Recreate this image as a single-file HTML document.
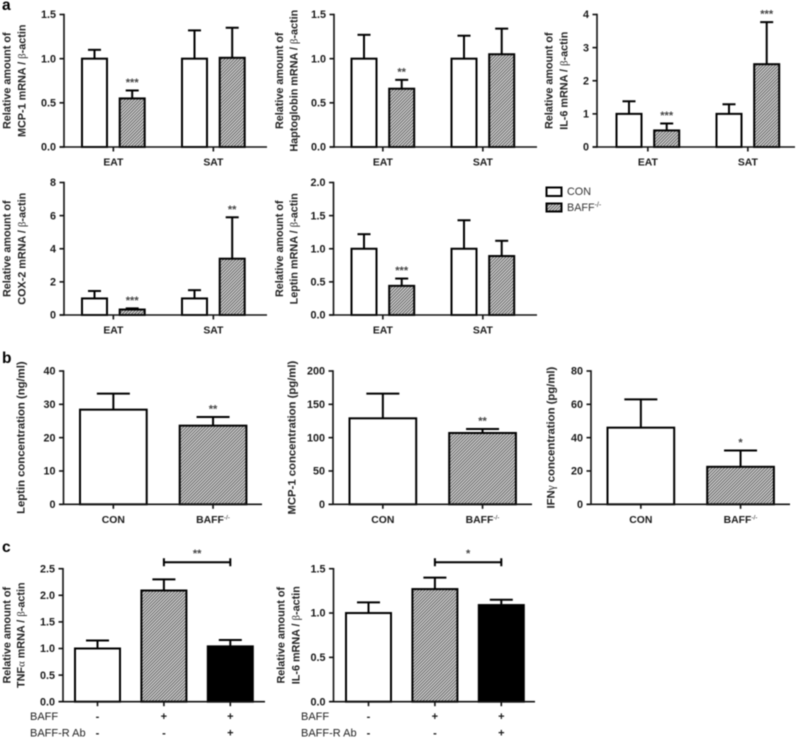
<!DOCTYPE html>
<html lang="en">
<head>
<meta charset="utf-8">
<title>BAFF knockout bar charts</title>
<style>
html,body{margin:0;padding:0;background:#fff;width:799px;height:738px;overflow:hidden}
svg{display:block;filter:blur(0.5px)}
text{font-family:"Liberation Sans",sans-serif;fill:#1a1a1a}
.tick{font-size:10.8px;font-weight:bold;text-anchor:end}
.cat{font-size:10.4px;font-weight:bold;text-anchor:middle}
.ylab{font-size:10.8px;font-weight:bold;text-anchor:middle;fill:#222}
.ylab.big{font-size:11.3px}
.gr{font-family:"Liberation Serif",serif;font-weight:normal}
.star{font-size:11px;font-weight:bold;text-anchor:middle;fill:#444}
.panel{font-size:15.5px;font-weight:bold;fill:#000}
.leg{font-size:10.8px;fill:#333}
.row{font-size:11px;fill:#222}
.sign{font-size:11px;font-weight:bold;text-anchor:middle}
</style>
</head>
<body>
<svg id="fig" xmlns="http://www.w3.org/2000/svg" width="799" height="738" viewBox="0 0 799 738">
<defs>
<pattern id="hatch" width="2.2" height="2.2" patternUnits="userSpaceOnUse" patternTransform="rotate(-45)">
<rect width="2.2" height="2.2" fill="#dcdcdc"/>
<rect width="2.2" height="1" fill="#5c5c5c"/>
</pattern>
</defs>
<rect width="799" height="738" fill="#fff"/>
<text class="panel" x="2" y="10">a</text>
<text class="panel" x="2" y="363">b</text>
<text class="panel" x="2" y="552">c</text>
<g>
<rect x="546.5" y="187.5" width="15" height="8.5" fill="#fff" stroke="#000" stroke-width="2"/>
<text class="leg" x="567" y="195">CON</text>
<rect x="546.5" y="203.5" width="15" height="8" fill="url(#hatch)" stroke="#000" stroke-width="2"/>
<text class="leg" x="567" y="211">BAFF<tspan font-size="7" dy="-4">-/-</tspan></text>
</g>
</svg>
<script>
// ---- shared tick labels ----
const ticks15 = ['0.0', '0.5', '1.0', '1.5'];
const ticks4 = ['0', '1', '2', '3', '4'];
const ticks8 = ['0', '2', '4', '6', '8'];
const ticks20 = ['0.0', '0.5', '1.0', '1.5', '2.0'];
const ticks40 = ['0', '10', '20', '30', '40'];
const ticks200 = ['0', '50', '100', '150', '200'];
const ticks80 = ['0', '20', '40', '60', '80'];
const ticks25 = ['0.0', '0.5', '1.0', '1.5', '2.0', '2.5'];

// ---- categories ----
const tissueCategories = ['EAT', 'SAT'];
const genotypeCategories = ['CON', 'BAFF'];

// ---- panel a ----
const mcp1Means = [1.0, 0.55, 1.0, 1.01];
const mcp1Upper = [1.10, 0.64, 1.32, 1.35];
const mcp1Stars = ['', '***', '', ''];
const haptoMeans = [1.0, 0.66, 1.0, 1.05];
const haptoUpper = [1.27, 0.76, 1.26, 1.34];
const haptoStars = ['', '**', '', ''];
const il6Means = [1.0, 0.5, 1.0, 2.5];
const il6Upper = [1.38, 0.71, 1.29, 3.77];
const il6Stars = ['', '***', '', '***'];
const cox2Means = [1.0, 0.33, 1.0, 3.4];
const cox2Upper = [1.45, 0.4, 1.5, 5.9];
const cox2Stars = ['', '***', '', '**'];
const leptinMeans = [1.0, 0.44, 1.0, 0.89];
const leptinUpper = [1.22, 0.55, 1.43, 1.12];
const leptinStars = ['', '***', '', ''];

// ---- panel b ----
const leptinConcMeans = [28.4, 23.6];
const leptinConcUpper = [33.2, 26.2];
const leptinConcStars = ['', '**'];
const mcp1ConcMeans = [129, 107];
const mcp1ConcUpper = [166, 113];
const mcp1ConcStars = ['', '**'];
const ifnConcMeans = [46, 22.5];
const ifnConcUpper = [63, 32.3];
const ifnConcStars = ['', '*'];

// ---- panel c ----
const tnfMeans = [1.0, 2.09, 1.04];
const tnfUpper = [1.15, 2.30, 1.16];
const il6TreatMeans = [1.0, 1.27, 1.09];
const il6TreatUpper = [1.12, 1.40, 1.15];
const baffSigns = ['-', '+', '+'];
const abSigns = ['-', '-', '+'];

const NS = 'http://www.w3.org/2000/svg';
const fig = document.getElementById('fig');
const INK = '#000';
const LW = 2;

function make(tag, attrs, parent) {
  const n = document.createElementNS(NS, tag);
  for (const k in attrs) n.setAttribute(k, attrs[k]);
  parent.appendChild(n);
  return n;
}

function addSpan(parent, txt, cls, extra) {
  const s = make('tspan', extra || {}, parent);
  if (cls) s.setAttribute('class', cls);
  s.textContent = txt;
}

// writes "plain text" where runs wrapped as [g]..[/g] use the serif greek face
function writeLabel(node, str) {
  str.split(/(\[g\].*?\[\/g\])/).forEach(function (part) {
    if (!part) return;
    if (part.indexOf('[g]') === 0) addSpan(node, part.slice(3, -4), 'gr');
    else addSpan(node, part, '');
  });
}

function yLabel(group, str, cx, cy, big) {
  const t = make('text', { class: big ? 'ylab big' : 'ylab', transform: 'translate(' + (cx + 3.7) + ' ' + cy + ') rotate(-90)' }, group);
  
  
  writeLabel(t, str);
}

function fillFor(style) {
  if (style === 'hatch') return 'url(#hatch)';
  if (style === 'black') return '#000';
  return '#fff';
}

function drawChart(p) {
  const g = make('g', {}, fig);
  
  

  const yMax = parseFloat(p.ticks[p.ticks.length - 1]);
  const y = function (v) { return p.base - (v / yMax) * (p.base - p.top); };
  const x = function (i) {
    const grp = Math.floor(i / p.perGroup);
    const sub = i % p.perGroup;
    return p.firstBar + grp * p.groupStep + sub * p.innerStep;
  };
  const groupCenter = function (grp) {
    return p.firstBar + grp * p.groupStep + ((p.perGroup - 1) * p.innerStep + p.barWidth) / 2;
  };

  // bars + error bars
  p.means.forEach(function (m, i) {
    const cx = x(i) + p.barWidth / 2;
    const stem = make('line', { x1: cx, x2: cx, y1: y(m), y2: y(p.upper[i]), stroke: INK, 'stroke-width': LW }, g);
    
    
    const cap = make('line', { x1: cx - p.cap / 2, x2: cx + p.cap / 2, y1: y(p.upper[i]), y2: y(p.upper[i]), stroke: INK, 'stroke-width': LW }, g);
    
    
    const bar = make('rect', {
      x: x(i), y: y(m), width: p.barWidth, height: p.base - y(m),
      fill: fillFor(p.styles[i % p.styles.length]), stroke: INK, 'stroke-width': LW
    }, g);
    
    
    if (p.stars && p.stars[i]) {
      const s = make('text', { class: 'star', x: cx, y: y(p.upper[i]) - 4.5 }, g);
      
      
      s.textContent = p.stars[i];
    }
  });

  // axes
  const yAxis = make('line', { x1: p.axis, x2: p.axis, y1: p.top - 0.7, y2: p.base + 0.7, stroke: '#111', 'stroke-width': 1.6 }, g);
  
  
  const xAxis = make('line', { x1: p.axis - 4.5, x2: p.xEnd, y1: p.base, y2: p.base, stroke: '#111', 'stroke-width': 1.6 }, g);
  
  

  p.ticks.forEach(function (lab) {
    const v = parseFloat(lab);
    const tk = make('line', { x1: p.axis - 4.5, x2: p.axis, y1: y(v), y2: y(v), stroke: '#111', 'stroke-width': 1.6 }, g);
    
    
    const t = make('text', { class: 'tick', x: p.axis - 8, y: y(v) + 3.7 }, g);
    
    
    t.textContent = lab;
  });

  const nGroups = Math.ceil(p.means.length / p.perGroup);
  for (let k = 0; k < nGroups; k++) {
    const c = groupCenter(k);
    const tk = make('line', { x1: c, x2: c, y1: p.base, y2: p.base + 4.5, stroke: '#111', 'stroke-width': 1.6 }, g);
    
    
    if (p.categories) {
      const t = make('text', { class: 'cat', x: c, y: p.base + p.catGap }, g);
      
      
      addSpan(t, p.categories[k], '');
      if (p.categories[k] === 'BAFF') addSpan(t, '-/-', '', { 'font-size': '6.5', dy: '-3.5', 'font-weight': 'normal' });
    }
  }

  // y titles
  p.titles.forEach(function (s, i) { yLabel(g, s, p.titleX[i], (p.top + p.base) / 2, p.bigTitle); });

  // treatment rows and comparison bracket
  if (p.rowSigns) {
    p.rowSigns.forEach(function (signs, r) {
      const rl = make('text', { class: 'row', x: p.rowX, y: p.rowY[r] }, g);
      
      
      rl.textContent = p.rowNames[r];
      signs.forEach(function (sg, k) {
        const t = make('text', { class: 'sign', x: groupCenter(k), y: p.rowY[r] }, g);
        
        
        t.textContent = sg;
      });
    });
    const a = groupCenter(1), b = groupCenter(2), by = p.bracketY;
    const br = make('path', {
      d: 'M' + a + ' ' + (by - 4) + 'V' + (by + 4) + 'M' + a + ' ' + by + 'H' + b + 'M' + b + ' ' + (by - 4) + 'V' + (by + 4),
      fill: 'none', stroke: INK, 'stroke-width': 2
    }, g);
    
    
    const st = make('text', { class: 'star', x: (a + b) / 2, y: by - 5.5 }, g);
    
    
    st.textContent = p.bracketStars;
  }
}

const pairStyle = ['white', 'hatch'];
const trioStyle = ['white', 'hatch', 'black'];
const REL = 'Relative amount of';

function panelA(name, axis, firstBar, xEnd, top, means, upper, stars, ticks, gene, titleX) {
  drawChart({
    name: name, axis: axis, firstBar: firstBar, xEnd: xEnd, top: top, base: top + 132.5,
    perGroup: 2, groupStep: 100, innerStep: 37.7, barWidth: 25, cap: 13, catGap: 18.5,
    means: means, upper: upper, stars: stars, ticks: ticks, styles: pairStyle,
    categories: tissueCategories,
    titles: [REL, gene + ' mRNA / [g]β[/g]-actin'], titleX: titleX
  });
}
function panelB(name, axis, firstBar, xEnd, means, upper, stars, ticks, title, titleX) {
  drawChart({
    name: name, axis: axis, firstBar: firstBar, xEnd: xEnd, top: 371, base: 504.3,
    perGroup: 1, groupStep: 99.7, innerStep: 0, barWidth: 66.7, cap: 33, catGap: 18.5,
    means: means, upper: upper, stars: stars, ticks: ticks, styles: pairStyle,
    categories: genotypeCategories, titles: [title], titleX: [titleX], bigTitle: true
  });
}
function panelC(name, axis, firstBar, xEnd, means, upper, ticks, gene, titleX, rowX, bracketStars) {
  drawChart({
    name: name, axis: axis, firstBar: firstBar, xEnd: xEnd, top: 568.7, base: 701.7,
    perGroup: 1, groupStep: 66.4, innerStep: 0, barWidth: 45, cap: 23,
    means: means, upper: upper, ticks: ticks, styles: trioStyle,
    titles: [REL, gene + ' mRNA / [g]β[/g]-actin'], titleX: titleX,
    rowSigns: [baffSigns, abSigns], rowNames: ['BAFF', 'BAFF-R Ab'], rowY: [720, 736.5], rowX: rowX,
    bracketY: 562.3, bracketStars: bracketStars
  });
}

panelA('chart-mcp1-mrna', 64, 82, 267, 14.5, mcp1Means, mcp1Upper, mcp1Stars, ticks15, 'MCP-1', [7, 22]);
panelA('chart-haptoglobin-mrna', 334, 351.5, 537, 14.5, haptoMeans, haptoUpper, haptoStars, ticks15, 'Haptoglobin', [279.5, 294]);
panelA('chart-il6-mrna', 597, 616.5, 795, 14.5, il6Means, il6Upper, il6Stars, ticks4, 'IL-6', [549, 564]);
panelA('chart-cox2-mrna', 64, 82, 267, 182.5, cox2Means, cox2Upper, cox2Stars, ticks8, 'COX-2', [7, 22]);
panelA('chart-leptin-mrna', 333.5, 351.5, 537, 182.5, leptinMeans, leptinUpper, leptinStars, ticks20, 'Leptin', [279.5, 294]);

panelB('chart-leptin-concentration', 63.5, 80, 262, leptinConcMeans, leptinConcUpper, leptinConcStars, ticks40, 'Leptin concentration (ng/ml)', 21);
panelB('chart-mcp1-concentration', 333, 349.5, 532, mcp1ConcMeans, mcp1ConcUpper, mcp1ConcStars, ticks200, 'MCP-1 concentration (pg/ml)', 292);
panelB('chart-ifn-concentration', 591, 607.5, 790, ifnConcMeans, ifnConcUpper, ifnConcStars, ticks80, 'IFN[g]γ[/g] concentration (pg/ml)', 551);

panelC('chart-tnf-treatment', 63, 75, 265, tnfMeans, tnfUpper, ticks25, 'TNF[g]α[/g]', [7, 21], 30, '**');
panelC('chart-il6-treatment', 333.5, 346, 535, il6TreatMeans, il6TreatUpper, ticks15, 'IL-6', [281, 296], 301, '*');
</script>
</body>
</html>
